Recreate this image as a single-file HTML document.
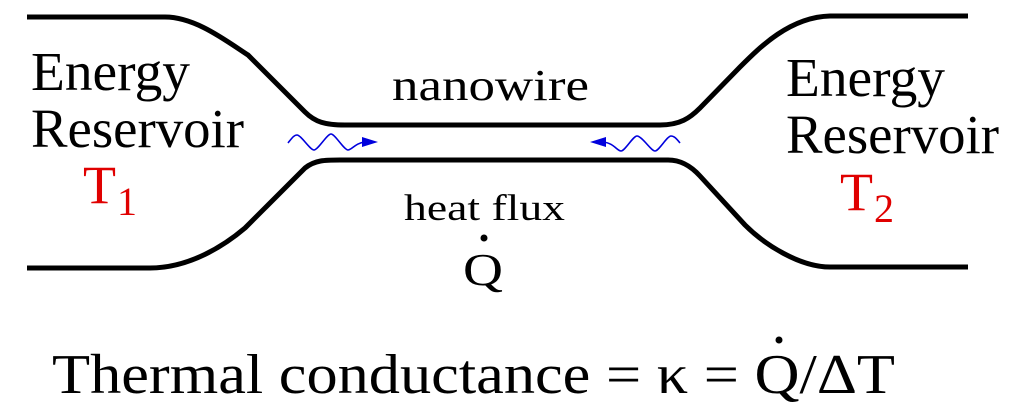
<!DOCTYPE html>
<html><head><style>
html,body{margin:0;padding:0;background:#fff;width:1020px;height:413px;overflow:hidden}
text{font-family:"Liberation Serif","Times New Roman","DejaVu Serif",serif}
</style></head><body>
<svg width="1020" height="413" viewBox="0 0 1020 413" xmlns="http://www.w3.org/2000/svg">
<g fill="none" stroke="#000" stroke-width="5">
<path d="M27,17 L165,17 C195,17 225,40 248,55 L305,112 C315,122 325,125 345,125 L660,125 C680,125 690,118 700,108 L740,67 C760,47 790,17 830,16 L968,16"/>
<path d="M27,268 L150,268 C190,268 225,245 245,228 L305,168 C315,160 325,160 340,160 L668,160 C680,160 690,165 700,176 L745,225 C765,245 800,267 830,267 L968,267"/>
</g>
<g fill="none" stroke="#0000dd" stroke-width="1.6">
<path d="M288,143 C292,138 294,135 297,135 C301,135 310,150 314,150 C318,150 327,134 331,134 C335,134 344,150 348,150 C352,150 355,143 365,142"/>
<path d="M680,143 C676,138 674,136 671,136 C667,136 659,151 655,151 C651,151 642,136 637,136 C633,136 625,151 621,151 C617,151 614,143 603,142"/>
</g>
<polygon points="362,137 378,142 362,147" fill="#0000dd"/>
<polygon points="606,137 590,142 606,147" fill="#0000dd"/>
<g font-size="55" fill="#000">
<text x="31" y="90" textLength="159" lengthAdjust="spacingAndGlyphs">Energy</text>
<text x="31" y="147" textLength="213" lengthAdjust="spacingAndGlyphs">Reservoir</text>
<text x="786" y="96" textLength="159" lengthAdjust="spacingAndGlyphs">Energy</text>
<text x="786" y="153" textLength="213" lengthAdjust="spacingAndGlyphs">Reservoir</text>
</g>
<text x="83" y="203" font-size="54" fill="#e00000" textLength="33" lengthAdjust="spacingAndGlyphs">T</text>
<text x="117" y="215" font-size="40" fill="#e00000" textLength="20" lengthAdjust="spacingAndGlyphs">1</text>
<text x="840" y="210" font-size="54" fill="#e00000" textLength="33" lengthAdjust="spacingAndGlyphs">T</text>
<text x="874" y="222" font-size="40" fill="#e00000" textLength="20" lengthAdjust="spacingAndGlyphs">2</text>
<text x="392" y="100" font-size="44" textLength="197" lengthAdjust="spacingAndGlyphs">nanowire</text>
<text x="404" y="220" font-size="37" textLength="161" lengthAdjust="spacingAndGlyphs">heat flux</text>
<text x="463" y="285" font-size="46" textLength="40" lengthAdjust="spacingAndGlyphs">Q</text>
<circle cx="484" cy="238" r="3.5" fill="#000"/>
<text x="52" y="393" font-size="56" textLength="843" lengthAdjust="spacingAndGlyphs">Thermal conductance = κ = Q/ΔT</text>
<circle cx="779" cy="340" r="3.5" fill="#000"/>
</svg>
</body></html>
